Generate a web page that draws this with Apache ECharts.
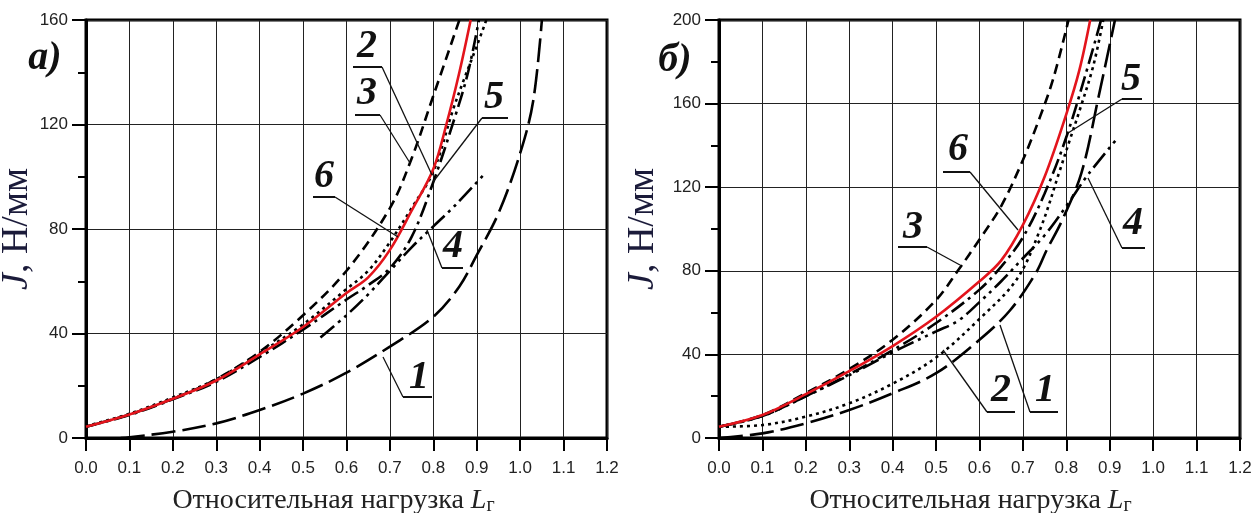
<!DOCTYPE html>
<html><head><meta charset="utf-8">
<script src="https://cdn.jsdelivr.net/npm/echarts@6/dist/echarts.min.js"></script>
<style>html,body{margin:0;padding:0;background:#fff;overflow:hidden}#c{width:1254px;height:513px}</style>
</head><body><div id="c"></div>
<script>
// ---- Panel а) data ----
const xTicks = [0,0.1,0.2,0.3,0.4,0.5,0.6,0.7,0.8,0.9,1.0,1.1,1.2];
const a_c1x = [0.08,0.1,0.2,0.3,0.4,0.5,0.6,0.7,0.8,0.86,0.9,0.95,1.0,1.03,1.05];
const a_c1y = [0,0.3,2.4,5.6,10.7,17,25,35,46.4,58,70,86,109,129,160];
const a_c2x = [0,0.1,0.2,0.3,0.4,0.5,0.6,0.65,0.7,0.75,0.8,0.845,0.87,0.9,0.922];
const a_c2y = [4.5,9.3,15.5,22.5,32.5,43.5,57,64,75,88,102,125.5,137,150,160];
const a_c3x = [0,0.1,0.2,0.3,0.4,0.5,0.6,0.7,0.75,0.8,0.86];
const a_c3y = [4.3,9,15,22.5,33,47,64,88,107,131,160];
const a_c4x = [0.54,0.6,0.65,0.7,0.75,0.8,0.85,0.92];
const a_c4y = [38.5,47,55,64,73,81,89,101.5];
const a_c5x = [0,0.1,0.2,0.3,0.4,0.5,0.6,0.65,0.7,0.75,0.8,0.85,0.88,0.905];
const a_c5y = [4.3,8.8,14.8,21.5,31,41.5,53,58.5,65,77,98,123,140,160];
const a_c6x = [0,0.1,0.2,0.3,0.4,0.5,0.6,0.65,0.7,0.75,0.8,0.83,0.86,0.886];
const a_c6y = [4.3,9,15,22,32,42.5,55.5,61.5,72,87,103,120,140,160];
// ---- Panel б) data ----
const b_c1x = [0,0.1,0.2,0.3,0.4,0.5,0.6,0.67,0.73,0.755,0.79,0.835,0.874,0.912];
const b_c1y = [0,2.2,7,13.4,21.4,31,47,61,79,90,104,127,163,200];
const b_c2x = [0,0.1,0.2,0.3,0.4,0.5,0.6,0.686,0.74,0.785,0.808,0.831,0.862,0.885];
const b_c2y = [5.4,6.2,10.2,16.6,26,38.5,57,76,100,128,142.6,157,178,200];
const b_c3x = [0,0.1,0.2,0.3,0.4,0.5,0.55,0.6,0.65,0.7,0.74,0.77,0.805];
const b_c3y = [5.4,11,21.5,33,47,66,80,95,111,133,154,172,200];
const b_c4x = [0,0.1,0.2,0.3,0.4,0.5,0.55,0.6,0.65,0.7,0.75,0.8,0.85,0.916];
const b_c4y = [5.4,10.5,20,30,41,51,56,65,75,86,97,111,126,143];
const b_c5x = [0,0.1,0.2,0.3,0.4,0.5,0.6,0.65,0.7,0.75,0.8,0.85,0.88];
const b_c5y = [5.4,10.5,20,30.5,42,55,71,82,96,117,144,178,200];
const b_c6x = [0,0.1,0.2,0.3,0.4,0.5,0.6,0.65,0.7,0.75,0.8,0.83,0.855];
const b_c6y = [5.4,11,21,32,44,58,75,85,102,125,155,176,200];
const curveNames = ['1','2','3','4','5','6'];

const zip = (xs, ys) => xs.map((x, i) => [x, ys[i]]);
const styles = [
  {color:'#000', width:2.6, type:[24,7]},
  {color:'#000', width:2.6, type:[3,4]},
  {color:'#000', width:2.6, type:[10,6]},
  {color:'#000', width:2.6, type:[18,5,3,5,3,5]},
  {color:'#000', width:2.6, type:[16,5,3,5]},
  {color:'#e3141c', width:2.6, type:'solid'}
];
function mkSeries(idx, sets) {
  return sets.map((d, i) => ({
    name: curveNames[i], type:'line', xAxisIndex: idx, yAxisIndex: idx,
    data: zip(d[0], d[1]), smooth: 0.35, showSymbol:false, symbol:'none',
    lineStyle: styles[i], z: i === 5 ? 5 : 3, clip: true
  }));
}
const seriesA = mkSeries(0, [[a_c1x,a_c1y],[a_c2x,a_c2y],[a_c3x,a_c3y],[a_c4x,a_c4y],[a_c5x,a_c5y],[a_c6x,a_c6y]]);
const seriesB = mkSeries(1, [[b_c1x,b_c1y],[b_c2x,b_c2y],[b_c3x,b_c3y],[b_c4x,b_c4y],[b_c5x,b_c5y],[b_c6x,b_c6y]]);

const serif = '"Liberation Serif", "DejaVu Serif", serif';
const sans = '"Liberation Sans", Arial, sans-serif';
const xTitleRich = {
  t:{fontFamily:serif, fontSize:28, color:'#222'},
  L:{fontFamily:serif, fontSize:28, fontStyle:'italic', color:'#222'},
  s:{fontFamily:serif, fontSize:20, color:'#222', padding:[11,0,0,0]}
};
const yTitleRich = {
  j:{fontFamily:serif, fontSize:38, fontStyle:'italic', color:'#1b1b3a'},
  t:{fontFamily:serif, fontSize:38, color:'#1b1b3a'}
};
function xAxis(gi, shiftPad) {
  return {
    type:'value', gridIndex: gi, min:0, max:1.2, interval:0.1,
    name:'{t|Относительная нагрузка }{L|L}{s|г}', nameLocation:'middle', nameGap:47,
    nameTextStyle:{rich:xTitleRich, padding:[0, shiftPad, 0, 0]},
    axisLine:{show:true, lineStyle:{color:'#000', width:3}},
    axisTick:{show:true, inside:false, length:13, lineStyle:{color:'#000', width:2}},
    axisLabel:{margin:22, fontFamily:sans, fontSize:17, color:'#222', formatter:v=>v.toFixed(1)},
    splitLine:{show:true, lineStyle:{color:'#222', width:1}}
  };
}
function yAxis(gi, max, gap) {
  return {
    type:'value', gridIndex: gi, min:0, max:max, interval:40,
    name:'{j|J}{t|, Н/мм}', nameLocation:'middle', nameGap:gap,
    nameTextStyle:{rich:yTitleRich},
    axisLine:{show:true, lineStyle:{color:'#000', width:3}},
    axisTick:{show:true, inside:false, length:14, lineStyle:{color:'#000', width:2}},
    minorTick:{show:true, splitNumber:2, length:8, lineStyle:{color:'#000', width:2}},
    axisLabel:{margin:18, fontFamily:sans, fontSize:17, color:'#222'},
    splitLine:{show:true, lineStyle:{color:'#222', width:1}},
    minorSplitLine:{show:false}
  };
}
const labelFont = 'italic bold 40px ' + serif;
function lbl(text, x, y) {
  return {type:'text', z:10, style:{text, x, y, font:labelFont, fill:'#111', align:'center', verticalAlign:'middle'}};
}
function ln(x1,y1,x2,y2,w) {
  return {type:'line', z:10, shape:{x1,y1,x2,y2}, style:{stroke:'#111', lineWidth:w}};
}
const callouts = [
  // panel а)
  ['2',367,47, 353,67,382,67, 382,67,432,175],
  ['3',367,94, 355,115,380,115, 380,115,410,163],
  ['5',494,98, 482,118,508,118, 482,118,433,182],
  ['6',324,177, 313,197,335,197, 335,197,398,237],
  ['4',453,247, 442,268,463,268, 442,268,427,230],
  ['1',419,378, 403,397,432,397, 403,397,383,357],
  // panel б)
  ['3',913,228, 898,247,927,247, 927,247,960,265],
  ['6',958,150, 943,172,970,172, 970,172,1018,230],
  ['5',1131,80, 1122,99,1142,99, 1122,99,1068,133],
  ['4',1133,224, 1122,248,1145,248, 1122,248,1088,178],
  ['2',1001,391, 987,412,1015,412, 987,412,943,350],
  ['1',1045,391, 1030,412,1058,412, 1030,412,1000,325]
];
const graphics = [];
callouts.forEach(c => {
  graphics.push(lbl(c[0], c[1], c[2]));
  graphics.push(ln(c[3],c[4],c[5],c[6],2));
  graphics.push(ln(c[7],c[8],c[9],c[10],1.3));
});
graphics.push(lbl('а)', 45, 59));
graphics.push(lbl('б)', 675, 61));

const chart = echarts.init(document.getElementById('c'), null, {renderer:'canvas'});
chart.setOption({
  animation:false,
  backgroundColor:'#fff',
  grid:[
    {left:86, top:20, width:521, height:418, show:true, borderColor:'#000', borderWidth:3, containLabel:false, outerBoundsMode:'none'},
    {left:719, top:20, width:521, height:418, show:true, borderColor:'#000', borderWidth:3, containLabel:false, outerBoundsMode:'none'}
  ],
  xAxis:[xAxis(0, 26), xAxis(1, 18)],
  yAxis:[yAxis(0,160,50), yAxis(1,200,57)],
  series: seriesA.concat(seriesB),
  graphic: graphics
});
</script></body></html>
